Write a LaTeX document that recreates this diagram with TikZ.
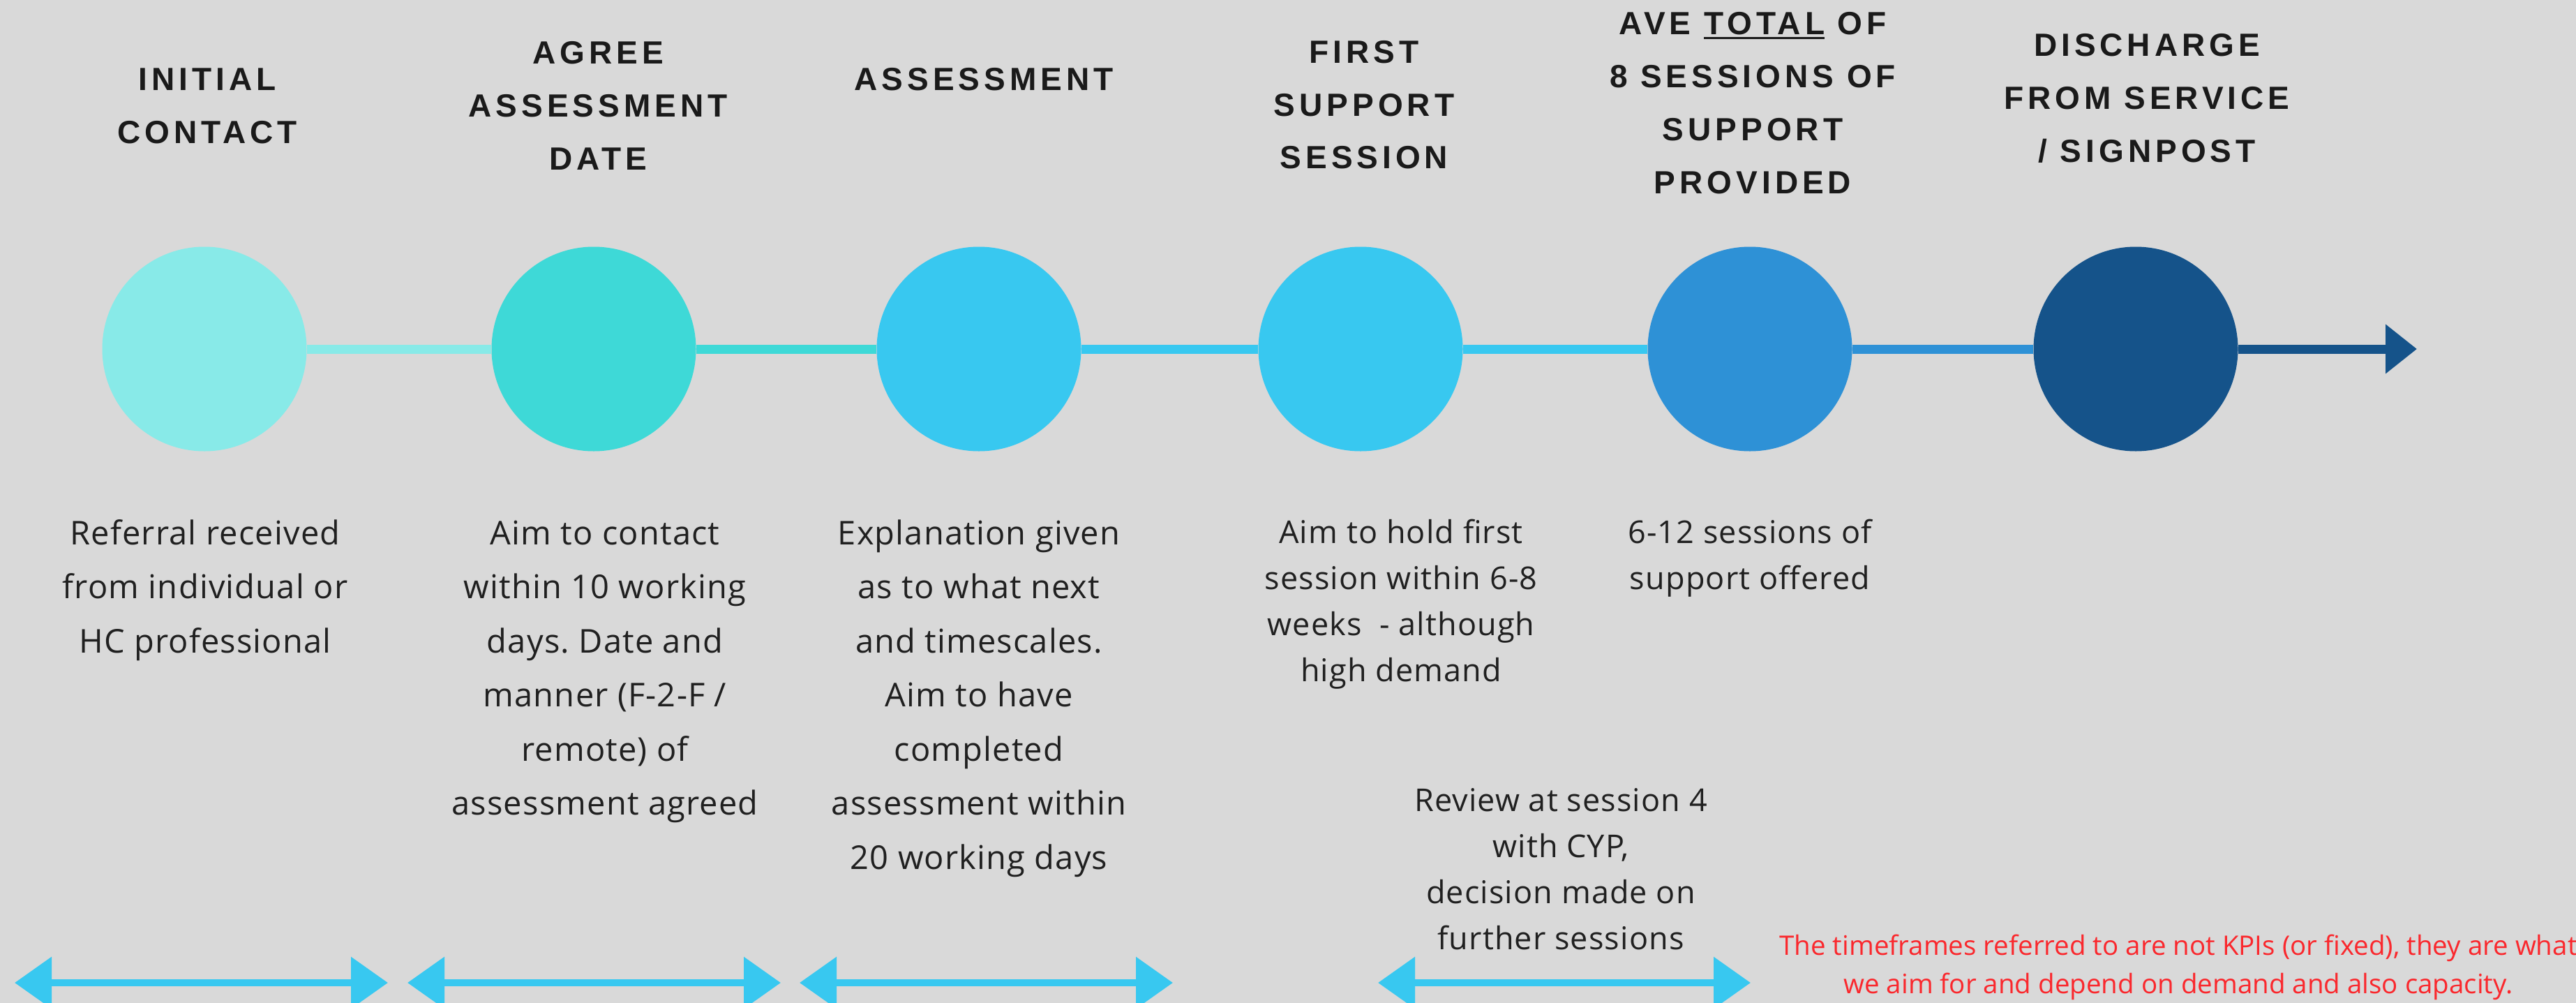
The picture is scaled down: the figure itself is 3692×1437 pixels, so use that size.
\documentclass[tikz,border=0pt]{standalone}
\usepackage{fontspec}
\usetikzlibrary{arrows.meta}
\setmainfont{Open Sans}
\newfontfamily\titlefont{Liberation Sans}[LetterSpace=13]
\newfontfamily\bodyfont{Open Sans}[LetterSpace=2.5]
\newfontfamily\notefont{Open Sans}
\definecolor{bg}{HTML}{D9D9D9}
\definecolor{ink}{HTML}{1A1A1A}
\definecolor{bodyink}{HTML}{202020}
\definecolor{cA}{HTML}{88EAE8}
\definecolor{cB}{HTML}{3ED9D7}
\definecolor{cC}{HTML}{38C8F0}
\definecolor{cD}{HTML}{2E91D6}
\definecolor{cE}{HTML}{15538A}
\definecolor{noteink}{RGB}{250,40,45}
\frenchspacing
\newcommand\stack[1]{\begin{tabular}[t]{@{}c@{}}#1\end{tabular}}
\newcommand\ulword[1]{\setbox0\hbox{#1}\rlap{\rule[-6pt]{\wd0}{3pt}}\box0\relax}
\tikzset{
  ttl/.style={anchor=base, inner sep=0pt, text=ink, font=\titlefont\bfseries\fontsize{46}{76}\selectfont},
  bodyA/.style={anchor=base, inner sep=0pt, text=bodyink, font=\bodyfont\fontsize{47}{77.5}\selectfont},
  bodyB/.style={anchor=base, inner sep=0pt, text=bodyink, font=\bodyfont\fontsize{45}{66}\selectfont},
  notetext/.style={anchor=base, inner sep=0pt, text=noteink, font=\notefont\fontsize{38.5}{55}\selectfont},
  dot/.style={circle, minimum size=293pt, inner sep=0pt, draw=none},
  tl/.style={line width=13pt},
  span/.style={line width=10pt, draw=cC, {Triangle[length=53pt,width=72pt]}-{Triangle[length=53pt,width=72pt]}}
}
\begin{document}
\begin{tikzpicture}[x=1pt,y=-1pt]
\fill[bg] (0,0) rectangle (3692,1437);
\useasboundingbox (0,0) rectangle (3692,1437);
\clip (0,0) rectangle (3692,1437);
% circles
\node[dot, fill=cA] (c1) at (293,500) {};
\node[dot, fill=cB] (c2) at (851,500) {};
\node[dot, fill=cC] (c3) at (1403,500) {};
\node[dot, fill=cC] (c4) at (1950,500) {};
\node[dot, fill=cD] (c5) at (2508,500) {};
\node[dot, fill=cE] (c6) at (3061,500) {};
\coordinate (tipE) at (3464,500);
% timeline
\draw[tl, cA] (c1) -- (c2);
\draw[tl, cB] (c2) -- (c3);
\draw[tl, cC] (c3) -- (c4);
\draw[tl, cC] (c4) -- (c5);
\draw[tl, cD] (c5) -- (c6);
\draw[tl, cE, -{Triangle[length=45pt,width=68pt]}] (c6) -- (tipE);
% titles
\node[ttl] (t1) at (297,129.5) {\stack{INITIAL\\CONTACT}};
\node[ttl] (t2) at (857,91.5) {\stack{AGREE\\ASSESSMENT\\DATE}};
\node[ttl] (t3) at (1410,129.5) {\stack{ASSESSMENT}};
\node[ttl] (t4) at (1955,90) {\stack{FIRST\\SUPPORT\\SESSION}};
\node[ttl] (t5) at (2512,50) {\stack{AVE \ulword{TOTAL} OF\\8 SESSIONS OF\\SUPPORT\\PROVIDED}};
\node[ttl] (t6) at (3077,80.4) {\stack{DISCHARGE\\FROM SERVICE\\/ SIGNPOST}};
% body texts
\node[bodyA] (b1) at (294,780) {\stack{Referral received\\from individual or\\HC professional}};
\node[bodyA] (b2) at (867,780) {\stack{Aim to contact\\within 10 working\\days. Date and\\manner (F-2-F /\\remote) of\\assessment agreed}};
\node[bodyA] (b3) at (1403,780) {\stack{Explanation given\\as to what next\\and timescales.\\Aim to have\\completed\\assessment within\\20 working days}};
\node[bodyB] (b4) at (2008,778) {\stack{Aim to hold first\\session within 6-8\\weeks \ - although\\high demand}};
\node[bodyB] (b5) at (2508,778) {\stack{6-12 sessions of\\support offered}};
\node[bodyB] (b6) at (2237,1162) {\stack{Review at session 4\\with CYP,\\decision made on\\further sessions}};
\node[notetext] (n1) at (3122,1368) {\stack{The timeframes referred to are not KPIs (or fixed), they are what\\we aim for and depend on demand and also capacity.}};
% bottom spans
\coordinate (s1a) at (21,1408);   \coordinate (s1b) at (556,1408);
\coordinate (s2a) at (584,1408);  \coordinate (s2b) at (1119,1408);
\coordinate (s3a) at (1146,1408); \coordinate (s3b) at (1681,1408);
\coordinate (s4a) at (1975,1408); \coordinate (s4b) at (2509,1408);
\draw[span] (s1a) -- (s1b);
\draw[span] (s2a) -- (s2b);
\draw[span] (s3a) -- (s3b);
\draw[span] (s4a) -- (s4b);
\end{tikzpicture}
\end{document}
